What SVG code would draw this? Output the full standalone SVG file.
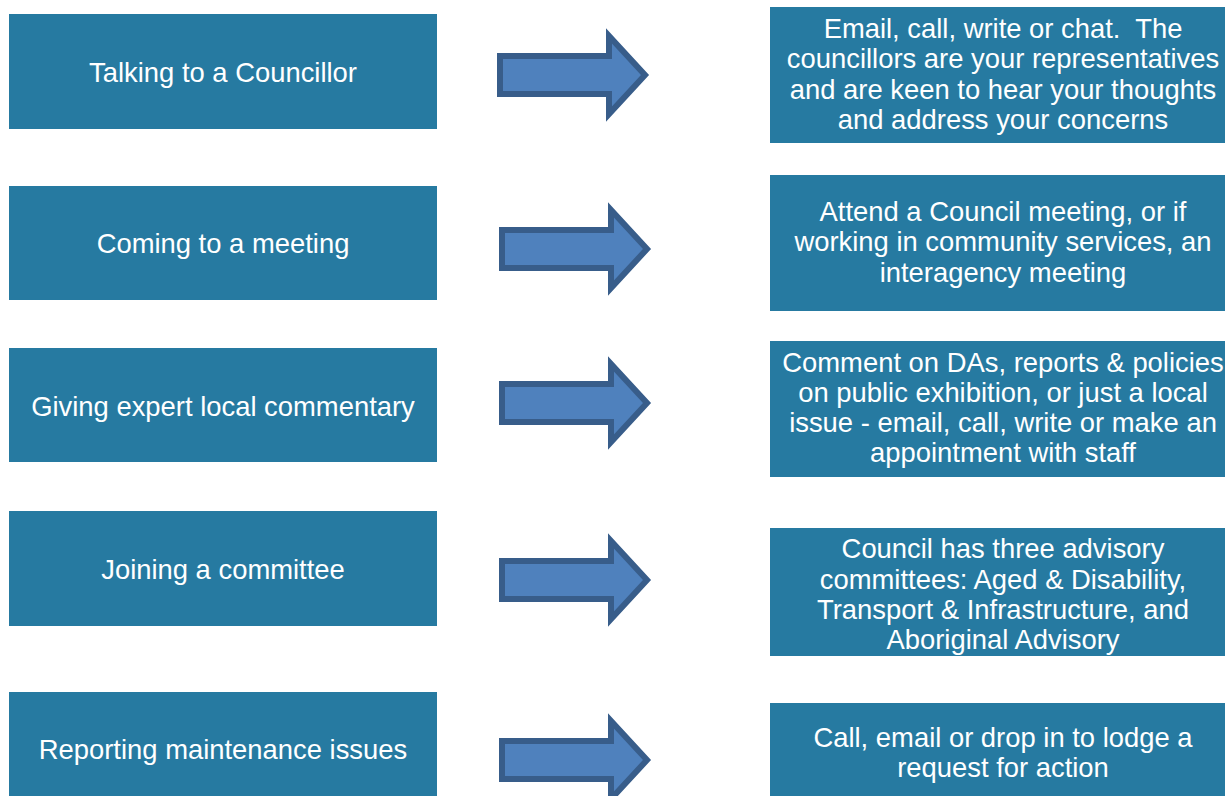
<svg xmlns="http://www.w3.org/2000/svg" xmlns:xlink="http://www.w3.org/1999/xlink" width="1225" height="796" viewBox="0 0 1225 796">
  <style>
    .box { fill: #267AA1; }
    .lbl { fill: #FFFFFF; font-family: "Liberation Sans", Arial, sans-serif; font-size: 27.4px; text-anchor: middle; }
    .arrow { fill: #4F81BD; stroke: #385D8A; stroke-width: 6; stroke-linejoin: miter; }
  </style>
  <defs>
    <!-- block arrow centred on y = 0 -->
    <path id="blockArrow" d="M 502,-19 H 611 V -39 L 647,0 L 611,39 V 19 H 502 Z"/>
  </defs>
  <rect width="1225" height="796" fill="#FFFFFF"/>

  <!-- left column: ways to get involved -->
  <g id="talking">
    <rect class="box" x="9" y="14" width="428" height="115"/>
    <text class="lbl" x="223" y="82">Talking to a Councillor</text>
  </g>
  <g id="meeting">
    <rect class="box" x="9" y="186" width="428" height="114"/>
    <text class="lbl" x="223" y="253">Coming to a meeting</text>
  </g>
  <g id="commentary">
    <rect class="box" x="9" y="348" width="428" height="114"/>
    <text class="lbl" x="223" y="416">Giving expert local commentary</text>
  </g>
  <g id="committee">
    <rect class="box" x="9" y="511" width="428" height="115"/>
    <text class="lbl" x="223" y="579">Joining a committee</text>
  </g>
  <g id="maintenance">
    <rect class="box" x="9" y="692" width="428" height="104"/>
    <text class="lbl" x="223" y="759">Reporting maintenance issues</text>
  </g>

  <!-- right column: how to do it -->
  <g id="talking-how">
    <rect class="box" x="770" y="7" width="455" height="136"/>
    <text class="lbl" x="1003" y="37.5">Email, call, write or chat.&#160; The</text>
    <text class="lbl" x="1003" y="68">councillors are your representatives</text>
    <text class="lbl" x="1003" y="98.5">and are keen to hear your thoughts</text>
    <text class="lbl" x="1003" y="129">and address your concerns</text>
  </g>
  <g id="meeting-how">
    <rect class="box" x="770" y="175" width="455" height="136"/>
    <text class="lbl" x="1003" y="220.5">Attend a Council meeting, or if</text>
    <text class="lbl" x="1003" y="251">working in community services, an</text>
    <text class="lbl" x="1003" y="281.5">interagency meeting</text>
  </g>
  <g id="commentary-how">
    <rect class="box" x="770" y="341" width="455" height="136"/>
    <text class="lbl" x="1003" y="371.5">Comment on DAs, reports &amp; policies</text>
    <text class="lbl" x="1003" y="401.5">on public exhibition, or just a local</text>
    <text class="lbl" x="1003" y="431.5">issue - email, call, write or make an</text>
    <text class="lbl" x="1003" y="461.5">appointment with staff</text>
  </g>
  <g id="committee-how">
    <rect class="box" x="770" y="528" width="455" height="128"/>
    <text class="lbl" x="1003" y="558">Council has three advisory</text>
    <text class="lbl" x="1003" y="588.5">committees: Aged &amp; Disability,</text>
    <text class="lbl" x="1003" y="619">Transport &amp; Infrastructure, and</text>
    <text class="lbl" x="1003" y="649">Aboriginal Advisory</text>
  </g>
  <g id="maintenance-how">
    <rect class="box" x="770" y="703" width="455" height="93"/>
    <text class="lbl" x="1003" y="747">Call, email or drop in to lodge a</text>
    <text class="lbl" x="1003" y="777">request for action</text>
  </g>

  <!-- connectors -->
  <g id="connectors">
    <use xlink:href="#blockArrow" class="arrow" transform="translate(-2,75)"/>
    <use xlink:href="#blockArrow" class="arrow" transform="translate(0,249)"/>
    <use xlink:href="#blockArrow" class="arrow" transform="translate(0,403)"/>
    <use xlink:href="#blockArrow" class="arrow" transform="translate(0,580)"/>
    <use xlink:href="#blockArrow" class="arrow" transform="translate(0,760)"/>
  </g>
</svg>
